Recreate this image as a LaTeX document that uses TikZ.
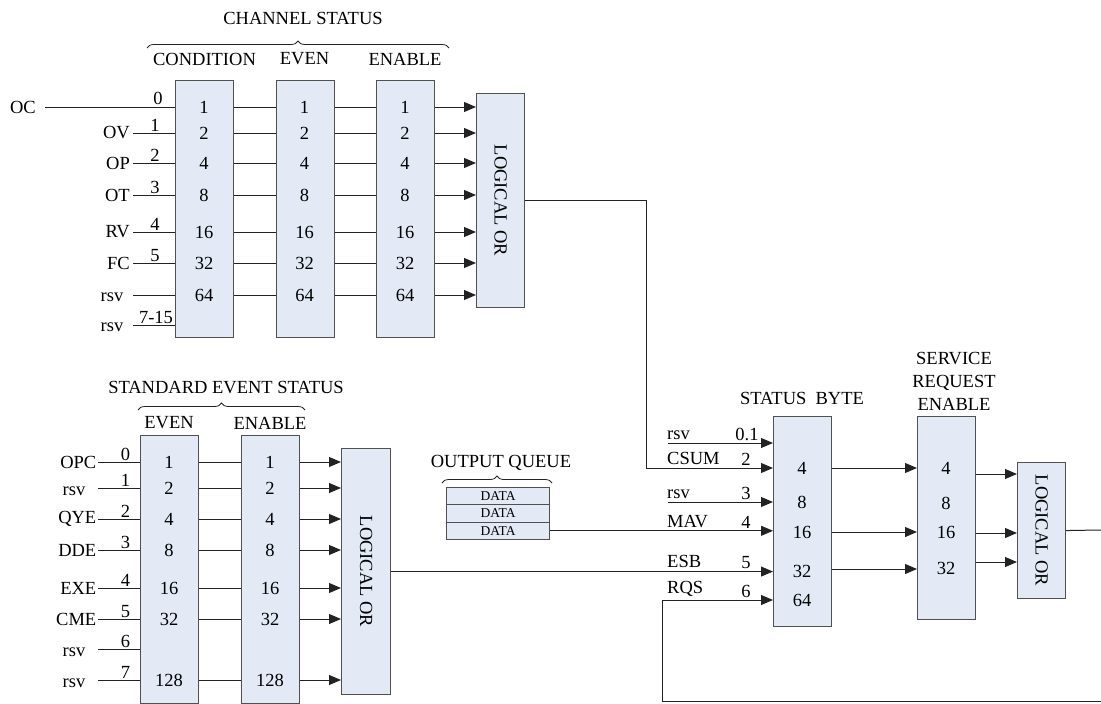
\documentclass[tikz,border=0pt]{standalone}
\usepackage{fontspec}
\setmainfont{Liberation Serif}
\usetikzlibrary{arrows.meta,decorations.pathreplacing,calc}
\definecolor{boxfill}{HTML}{E3EAF6}
\definecolor{boxline}{HTML}{505050}
\definecolor{wire}{HTML}{222222}
\begin{document}
\begin{tikzpicture}[x=1pt,y=-1pt,
  every node/.style={font=\fontsize{18.5}{22}\selectfont, inner sep=1pt},
  regbox/.style={draw=boxline, fill=boxfill, line width=1.1pt, anchor=north west, inner sep=0pt},
  databox/.style={regbox, minimum width=103pt, minimum height=17.3pt, font=\fontsize{13.5}{14}\selectfont},
  wireline/.style={draw=wire, line width=1pt},
  arrowline/.style={wireline, -{Triangle[length=12pt,width=10pt]}},
  brc/.style={draw=wire, line width=0.8pt, decorate, decoration={brace, amplitude=7pt}},
  vtext/.style={rotate=-90},
]
\useasboundingbox (0,0) rectangle (1101,704);

% ================= CHANNEL STATUS =================
\node (tCS) at (303,18) {CHANNEL STATUS};
\draw[brc] (147,48) -- (449,48);
\node (tCond) at (204.5,59) {CONDITION};
\node (tEven) at (304.5,59) {EVEN};
\node (tEnab) at (405,59) {ENABLE};

\node[regbox, minimum width=58pt, minimum height=257pt] (cond) at (175,80) {};
\node[regbox, minimum width=58pt, minimum height=257pt] (even) at (275.5,80) {};
\node[regbox, minimum width=58pt, minimum height=257pt] (enab) at (376,80) {};
\node[regbox, minimum width=48pt, minimum height=214pt] (orA) at (476,93) {};
\node[vtext] (orAt) at (orA.center) {LOGICAL OR};

\foreach \r/\v in {107/1,133/2,163/4,195/8,232/16,263/32,295/64} {
  \node (c\v) at (204,\r) {\v};
  \node (e\v) at (304.5,\r) {\v};
  \node (n\v) at (405,\r) {\v};
  \draw[wireline] (cond.east |- c\v) -- (even.west |- c\v);
  \draw[wireline] (even.east |- c\v) -- (enab.west |- c\v);
  \draw[arrowline] (enab.east |- c\v) -- (orA.west |- c\v);
}

% inputs
\node[anchor=east] (iOC) at (37,107) {OC};
\coordinate (sOC) at (45,107);
\draw[wireline] (sOC) -- (cond.west |- sOC);
\node[anchor=south] (bOC) at (158,105.5) {0};
\foreach \nm/\r/\b in {OV/133/1,OP/163/2,OT/195/3,RV/232/4,FC/263/5} {
  \node[anchor=east] (i\nm) at (131,\r) {\nm};
  \coordinate (s\nm) at (133,\r);
  \draw[wireline] (s\nm) -- (cond.west |- s\nm);
  \node[anchor=south] (b\nm) at (155,\r-0.5) {\b};
}
\node (iR6) at (112,297) {rsv};
\coordinate (sR6) at (133,295);
\draw[wireline] (sR6) -- (cond.west |- sR6);
\node (iR7) at (112,327) {rsv};
\coordinate (sR7) at (133,325);
\draw[wireline] (sR7) -- (cond.west |- sR7);
\node[anchor=south] (bR7) at (156,324.5) {7-15};

% OR A output to status byte CSUM
\coordinate (bend1) at (646,468);

% ================= STANDARD EVENT STATUS =================
\node (tSES) at (226,388) {STANDARD EVENT STATUS};
\draw[brc] (138,410) -- (305,410);
\node (tEv2) at (169,423) {EVEN};
\node (tEn2) at (270,423) {ENABLE};

\node[regbox, minimum width=58pt, minimum height=268pt] (ev2) at (140,435) {};
\node[regbox, minimum width=58pt, minimum height=268pt] (en2) at (241,435) {};
\node[regbox, minimum width=49pt, minimum height=246pt] (orB) at (341,448) {};
\node[vtext] (orBt) at (orB.center) {LOGICAL OR};

\foreach \r/\v in {462/1,488/2,519/4,550/8,588/16,619/32,680/128} {
  \node (sv\v) at (169,\r) {\v};
  \node (se\v) at (270,\r) {\v};
  \draw[wireline] (ev2.east |- sv\v) -- (en2.west |- sv\v);
  \draw[arrowline] (en2.east |- sv\v) -- (orB.west |- sv\v);
}
\foreach \nm/\r/\b in {OPC/462/0,QYE/519/2,DDE/550/3,EXE/588/4,CME/619/5} {
  \node[anchor=east] (j\nm) at (97.5,\r) {\nm};
  \coordinate (t\nm) at (98,\r);
  \draw[wireline] (t\nm) -- (ev2.west |- t\nm);
  \node[anchor=south] (k\nm) at (125.5,\r-0.5) {\b};
}
\foreach \id/\r/\b in {a/488/1,b/649/6,c/680/7} {
  \node (jr\id) at (74,\r+3) {rsv};
  \coordinate (tr\id) at (98,\r);
  \draw[wireline] (tr\id) -- (ev2.west |- tr\id);
  \node[anchor=south] (kr\id) at (125.5,\r-0.5) {\b};
}

% ================= OUTPUT QUEUE =================
\node (tOQ) at (501,463) {OUTPUT QUEUE};
\draw[brc] (442,483) -- (552,483);
\node[databox] (d1) at (446,487) {DATA};
\node[databox] (d2) at (446,504.3) {DATA};
\node[databox] (d3) at (446,521.6) {DATA};

% ================= STATUS BYTE =================
\node (tSB) at (802,398) {STATUS\enspace BYTE};
\node[regbox, minimum width=58pt, minimum height=210pt] (sb) at (773,416) {};
\foreach \r/\v in {468/4,502/8,532/16,571/32,600/64} {
  \node (sbv\v) at (802,\r) {\v};
}
% inputs of status byte
\coordinate (rsvA) at (668,443);
\draw[arrowline] (rsvA) -- (sb.west |- rsvA);
\node[anchor=south west] (lrA) at (666,441) {rsv};
\node[anchor=south] (lnA) at (747,441.5) {0.1};

\draw[arrowline] (orA.east) -| (bend1) -- (sb.west |- bend1);
\node[anchor=south west] (lCS) at (666,466) {CSUM};
\node[anchor=south] (lnCS) at (746,467) {2};

\coordinate (rsvB) at (668,502);
\draw[arrowline] (rsvB) -- (sb.west |- rsvB);
\node[anchor=south west] (lrB) at (666,500) {rsv};
\node[anchor=south] (lnB) at (746,500.5) {3};

\draw[arrowline] (d3.east) -- (sb.west |- d3.east);
\node[anchor=south west] (lMAV) at (666,529) {MAV};
\node[anchor=south] (lnMAV) at (746,529.5) {4};

\draw[arrowline] (orB.east) -- (sb.west |- orB.east);
\node[anchor=south west] (lESB) at (666,569) {ESB};
\node[anchor=south] (lnESB) at (746,569.5) {5};

\coordinate (fbR) at (1101,701);
\coordinate (fbL) at (662,701);
\coordinate (rqs) at (773,600);
\draw[arrowline] (fbR) -- (fbL) |- (rqs);
\node[anchor=south west] (lRQS) at (666,598) {RQS};
\node[anchor=south] (lnRQS) at (746,598.5) {6};

% ================= SERVICE REQUEST ENABLE =================
\node[align=center, font=\fontsize{18.5}{23}\selectfont] (tSRE) at (954,381) {SERVICE\\REQUEST\\ENABLE};
\node[regbox, minimum width=58pt, minimum height=203pt] (sre) at (917,416) {};
\foreach \r/\v in {468/4,503/8,532/16,568/32} {
  \node (srv\v) at (946,\r) {\v};
}
\foreach \r in {468,532,569} {
  \draw[arrowline] (sb.east |- 0,\r) -- (sre.west |- 0,\r);
}

\node[regbox, minimum width=48pt, minimum height=136pt] (orC) at (1017,462) {};
\node[vtext] (orCt) at (orC.center) {LOGICAL OR};
\foreach \r in {474,533,562} {
  \draw[arrowline] (sre.east |- 0,\r) -- (orC.west |- 0,\r);
}
\coordinate (outR) at (1101,530);
\draw[wireline] (orC.east) -- (outR);

\end{tikzpicture}
\end{document}
